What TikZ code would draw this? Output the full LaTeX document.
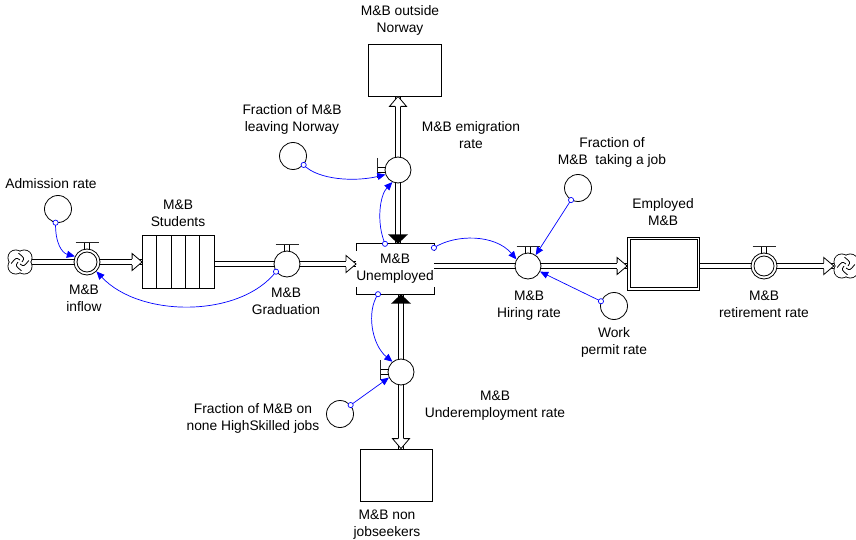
\documentclass[tikz,border=0pt]{standalone}
\usepackage{fontspec}
\setmainfont{Liberation Sans}
\usetikzlibrary{arrows.meta}
\pgfdeclarelayer{pipes}
\pgfsetlayers{pipes,main}

\tikzset{
  every node/.style={inner sep=0pt},
  lbl/.style={font=\fontsize{13.8}{17}\selectfont, align=center, text=black},
  stock/.style={draw, fill=white, line width=0.8pt, minimum width=72pt, minimum height=53pt},
  valve/.style={circle, draw, fill=white, line width=0.8pt, minimum size=26pt},
  aux/.style={circle, draw, fill=white, line width=0.8pt, minimum size=27pt},
  pipe/.style={draw=black, line width=0.8pt, double=white, double distance=4.4pt},
  link/.style={draw=blue, line width=0.7pt, -{Triangle[length=8pt,width=7pt]}},
  linkring/.style={draw=blue, line width=0.7pt, fill=white},
  cloudspot/.style={circle, minimum size=24pt},
  pics/openhead/.style={code={
    \draw[line width=0.8pt, fill=white] (-10pt,3.1pt) -- (-10pt,8.5pt) -- (0pt,0pt) -- (-10pt,-8.5pt) -- (-10pt,-3.1pt);}},
  pics/solidhead/.style={code={
    \fill (-9.5pt,10pt) -- (0pt,0pt) -- (-9.5pt,-10pt) -- cycle;}},
  pics/hhandle/.style={code={
    \draw[line width=0.8pt] (-2.5pt,13pt) -- (-2.5pt,19pt) (2.5pt,13pt) -- (2.5pt,19pt);
    \draw[line width=1.8pt, black!85] (-11.5pt,19.5pt) -- (11.5pt,19.5pt);}},
  pics/vhandle/.style={code={
    \draw[line width=0.8pt] (-13pt,3pt) -- (-20pt,3pt) (-13pt,-2pt) -- (-20pt,-2pt);
    \draw[line width=1.8pt, black!85] (-20.5pt,12pt) -- (-20.5pt,-8pt);}},
  pics/cloudicon/.style={code={
    \foreach \a in {45,135,225,315} \draw[line width=1.6pt] (\a:6pt) circle (7.4pt);
    \foreach \a in {45,135,225,315} \fill[white] (\a:6pt) circle (7.4pt);
    \foreach \a in {0,90,180,270}
      \draw[line width=0.8pt] (\a:2pt) .. controls (\a+40:6pt) .. (\a+100:9pt);}},
}

\begin{document}
\begin{tikzpicture}[x=1pt,y=-1pt]
\useasboundingbox (0,0) rectangle (856,540);

% ---------- stocks ----------
\node[stock] (students) at (178.5,262) {};
\node[stock] (employed) at (663.5,263.5) {};
\node[stock, minimum width=73pt, minimum height=52pt] (outside) at (404.5,70) {};
\node[stock, minimum height=52pt] (nonjob) at (396,475) {};
\node[lbl, minimum width=72pt, minimum height=50pt] (unemp) at (395,269) {M\&B\\Unemployed};

% ---------- valves ----------
\node[valve] (inflow) at (87,262) {};
\node[valve] (grad) at (287,264) {};
\node[valve] (emig) at (398,170) {};
\node[valve] (under) at (401,372) {};
\node[valve] (hiring) at (528,266) {};
\node[valve] (retire) at (764,266) {};

% ---------- sources and sinks ----------
\node[cloudspot] (cloudL) at (20,262) {};
\node[cloudspot] (cloudR) at (846,266) {};

% ---------- auxiliaries ----------
\node[aux] (admit) at (58,209) {};
\node[aux] (fracleave) at (293,156) {};
\node[aux] (takejob) at (578,188) {};
\node[aux] (workperm) at (614,306) {};
\node[aux] (highsk) at (340,414) {};

% ---------- flow pipes ----------
\begin{pgfonlayer}{pipes}
  \draw[pipe] (cloudL.east) -- (inflow.west);
  \draw[pipe] (inflow.east) -- (students.west);
  \draw[pipe] (students.east |- grad.west) -- (grad.west);
  \draw[pipe] (grad.east) -- (grad.east -| unemp.west);
  \draw[pipe] (unemp.east |- hiring.west) -- (hiring.west);
  \draw[pipe] (hiring.east) -- (hiring.east -| employed.west);
  \draw[pipe] (employed.east |- retire.west) -- (retire.west);
  \draw[pipe] (retire.east) -- (retire.east -| cloudR.west);
  \draw[pipe] (emig.south) -- (emig.south |- unemp.north);
  \draw[pipe] (emig.north) -- (emig.north |- outside.south);
  \draw[pipe] (under.north) -- (under.north |- unemp.south);
  \draw[pipe] (under.south) -- (under.south |- nonjob.north);
\end{pgfonlayer}

% compartments of the conveyor stock
\foreach \dx in {14.4,28.8,43.2,57.6}
  \draw[line width=0.8pt] ([xshift=\dx pt]students.north west) -- ([xshift=\dx pt]students.south west);
% inner frame of the employed stock
\draw[line width=0.8pt] ([shift={(3pt,-3pt)}]employed.north west) rectangle ([shift={(-3pt,3pt)}]employed.south east);
% bracket outline of the unemployed stock
\draw[line width=0.8pt] ([yshift=-7pt]unemp.north west) -- (unemp.north west) -- (unemp.north east) -- ([yshift=-7pt]unemp.north east);
\draw[line width=0.8pt] ([yshift=7pt]unemp.south west) -- (unemp.south west) -- (unemp.south east) -- ([yshift=7pt]unemp.south east);

% double rings and handles of the valves
\draw[line width=0.8pt] (inflow.center) circle (10pt);
\draw[line width=0.8pt] (retire.center) circle (10pt);
\pic at (inflow.center) {hhandle};
\pic at (grad.center) {hhandle};
\pic at (hiring.center) {hhandle};
\pic at (retire.center) {hhandle};
\pic at (emig.center) {vhandle};
\pic at (under.center) {vhandle};

% clouds
\pic at (cloudL.center) {cloudicon};
\pic at (cloudR.center) {cloudicon};

% flow arrow heads
\pic at (students.west) {openhead};
\pic at (grad.east -| unemp.west) {openhead};
\pic at (hiring.east -| employed.west) {openhead};
\pic at (retire.east -| cloudR.west) {openhead};
\pic[rotate=90] at (emig.north |- outside.south) {openhead};
\pic[rotate=-90] at (under.south |- nonjob.north) {openhead};
\pic[rotate=-90] at (emig.south |- unemp.north) {solidhead};
\pic[rotate=90] at (under.north |- unemp.south) {solidhead};

% ---------- information links ----------
\draw[link] (admit.-100) .. controls (55,243) and (62,253) .. (inflow.155);
\draw[link] (grad.-145) .. controls (240,318) and (140,318) .. (inflow.-45);
\draw[link] (fracleave.-40) .. controls (318,180) and (355,182) .. (emig.200);
\draw[link] ([xshift=-10pt]unemp.north) .. controls (376,222) and (380,195) .. (emig.-115);
\draw[link] ([yshift=-4pt]unemp.north east) .. controls (455,234) and (495,234) .. (hiring.150);
\draw[link] (takejob.-120) -- (hiring.55);
\draw[link] (workperm.160) -- (hiring.-25);
\draw[link] ([xshift=-17pt]unemp.south) .. controls (366,312) and (372,345) .. (under.130);
\draw[link] (highsk.40) -- (under.205);

\draw[linkring] (admit.-100) circle (2.6pt);
\draw[linkring] (grad.-145) circle (2.6pt);
\draw[linkring] (fracleave.-40) circle (2.6pt);
\draw[linkring] ([xshift=-10pt]unemp.north) circle (2.6pt);
\draw[linkring] ([yshift=-4pt]unemp.north east) circle (2.6pt);
\draw[linkring] (takejob.-120) circle (2.6pt);
\draw[linkring] (workperm.160) circle (2.6pt);
\draw[linkring] ([xshift=-17pt]unemp.south) circle (2.6pt);
\draw[linkring] (highsk.40) circle (2.6pt);

% ---------- labels ----------
\node[lbl] (admitlbl) at (51,184) {Admission rate};
\node[lbl] (studentslbl) at (178,213.5) {M\&B\\Students};
\node[lbl] (inflowlbl) at (84,298.5) {M\&B\\inflow};
\node[lbl] (gradlbl) at (286,301) {M\&B\\Graduation};
\node[lbl] (outsidelbl) at (400,20) {M\&B outside\\Norway};
\node[lbl] (emiglbl) at (471,135.5) {M\&B emigration\\rate};
\node[lbl] (fracleavelbl) at (292,119.5) {Fraction of M\&B\\leaving Norway};
\node[lbl] (takejoblbl) at (612,152) {Fraction of\\M\&B~ taking a job};
\node[lbl] (employedlbl) at (663,212.5) {Employed\\M\&B};
\node[lbl] (hiringlbl) at (529,305.5) {M\&B\\Hiring rate};
\node[lbl] (workpermlbl) at (614,342.5) {Work\\permit rate};
\node[lbl] (retirelbl) at (764,304.5) {M\&B\\retirement rate};
\node[lbl] (underlbl) at (495,406) {M\&B\\Underemployment rate};
\node[lbl] (highsklbl) at (253,418.5) {Fraction of M\&B on\\none HighSkilled jobs};
\node[lbl] (nonjoblbl) at (387,525) {M\&B non\\jobseekers};
\end{tikzpicture}
\end{document}
